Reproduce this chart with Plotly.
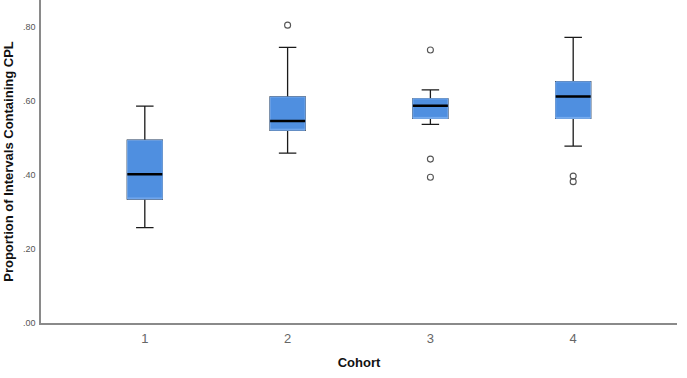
import plotly.graph_objects as go

cohorts = [1, 2, 3, 4]
lower_whisker = [0.258, 0.459, 0.537, 0.478]
q1 = [0.335, 0.521, 0.553, 0.553]
median = [0.402, 0.546, 0.587, 0.612]
q3 = [0.494, 0.611, 0.606, 0.652]
upper_whisker = [0.586, 0.745, 0.630, 0.772]

outlier_cohort = [2, 3, 3, 3, 4, 4]
outlier_value = [0.805, 0.738, 0.443, 0.394, 0.397, 0.382]

y_ticks = [0.0, 0.2, 0.4, 0.6, 0.8]
y_ticktext = [".00", ".20", ".40", ".60", ".80"]

BOX_W = 0.245
FILL = "#4f8fe0"
EDGE = "#7aaef0"

fig = go.Figure()

# whiskers (black)
fig.add_trace(go.Box(
    x=cohorts, q1=q1, median=median, q3=q3,
    lowerfence=lower_whisker, upperfence=upper_whisker,
    width=BOX_W, whiskerwidth=0.5,
    line=dict(color="#1a1a1a", width=1.3),
    fillcolor="rgba(0,0,0,0)", boxpoints=False, hoverinfo="skip",
    showlegend=False,
))
# blue box body
fig.add_trace(go.Box(
    x=cohorts, q1=q1, median=q1, q3=q3,
    lowerfence=q1, upperfence=q3,
    width=BOX_W, whiskerwidth=0,
    line=dict(color=EDGE, width=1),
    fillcolor=FILL, boxpoints=False, hoverinfo="skip",
    showlegend=False,
))
# median line
fig.add_trace(go.Box(
    x=cohorts, q1=median, median=median, q3=median,
    lowerfence=median, upperfence=median,
    width=BOX_W, whiskerwidth=0,
    line=dict(color="#000000", width=2.5),
    fillcolor="rgba(0,0,0,0)", boxpoints=False, hoverinfo="skip",
    showlegend=False,
))
# outliers
fig.add_trace(go.Scatter(
    x=outlier_cohort, y=outlier_value, mode="markers",
    marker=dict(symbol="circle-open", size=6, color="#555555", line=dict(width=1.1)),
    showlegend=False, hoverinfo="skip",
))

fig.update_layout(
    width=687, height=378,
    margin=dict(l=41, r=10, t=0, b=55),
    paper_bgcolor="white", plot_bgcolor="white",
    boxmode="overlay",
    font=dict(family="Liberation Sans, Arial, sans-serif", color="#222"),
)
fig.update_xaxes(
    range=[0.273, 4.727], tickmode="array", tickvals=cohorts,
    ticktext=[str(c) for c in cohorts],
    showline=True, linecolor="#8a8a8a", linewidth=1.5,
    showgrid=False, zeroline=False, ticks="",
    tickfont=dict(size=13, color="#666666"), ticklabelstandoff=3,
    title=dict(text="<b>Cohort</b>", font=dict(size=13, color="#111"), standoff=13),
)
fig.update_yaxes(
    range=[0, 0.873], tickmode="array", tickvals=y_ticks, ticktext=y_ticktext,
    showline=True, linecolor="#8a8a8a", linewidth=1.5,
    showgrid=False, zeroline=False, ticks="",
    tickfont=dict(size=9, color="#555555"), ticklabelstandoff=2,
    title=dict(text="<b>Proportion of Intervals Containing CPL</b>",
               font=dict(size=13, color="#111"), standoff=6),
)

fig.write_html("out.html")
